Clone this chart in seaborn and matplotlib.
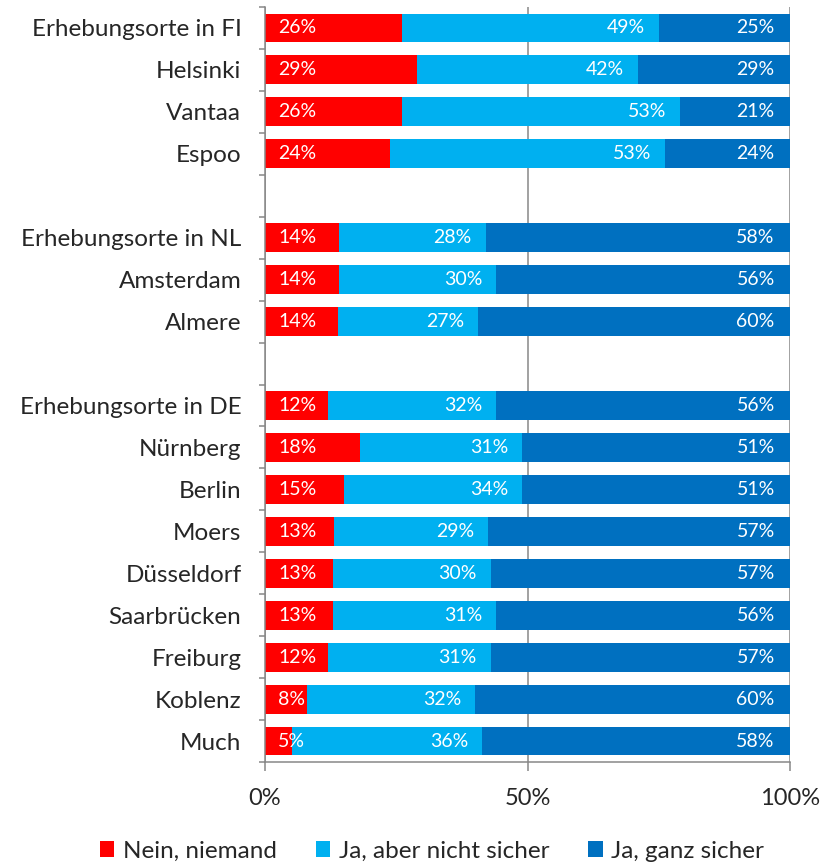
import matplotlib
matplotlib.use("Agg")
import matplotlib.pyplot as plt
import seaborn as sns
import pandas as pd
import numpy as np
from matplotlib.patches import Patch

# Survey locations (blank entries separate the country groups)
places = ["Erhebungsorte in FI", "Helsinki", "Vantaa", "Espoo", " ",
          "Erhebungsorte in NL", "Amsterdam", "Almere", "  ",
          "Erhebungsorte in DE", "Nürnberg", "Berlin", "Moers", "Düsseldorf",
          "Saarbrücken", "Freiburg", "Koblenz", "Much"]
nan = np.nan
nein = [26, 29, 26, 24, nan, 14, 14, 14, nan, 12, 18, 15, 13, 13, 13, 12, 8, 5]
unsicher = [49, 42, 53, 53, nan, 28, 30, 27, nan, 32, 31, 34, 29, 30, 31, 31, 32, 36]
sicher = [25, 29, 21, 24, nan, 58, 56, 60, nan, 56, 51, 51, 57, 57, 56, 57, 60, 58]

series_names = ["Nein, niemand", "Ja, aber nicht sicher", "Ja, ganz sicher"]
colors = ["#FF0000", "#00B0F0", "#0070C0"]
x_ticks = [0, 50, 100]
x_ticklabels = ["0%", "50%", "100%"]

sns.set_style("white")
plt.rcParams["font.family"] = ["Lato", "DejaVu Sans"]

df = pd.DataFrame({"place": places, "nein": nein, "unsicher": unsicher, "sicher": sicher})
total = df[["nein", "unsicher", "sicher"]].sum(axis=1, min_count=1)
# 100% stacked: shares relative to row total, cumulative ends of each segment
df["end_nein"] = df["nein"] / total * 100
df["end_unsicher"] = (df["nein"] + df["unsicher"]) / total * 100
df["end_sicher"] = (df["nein"] + df["unsicher"] + df["sicher"]) / total * 100

fig = plt.figure(figsize=(8.34, 8.65), dpi=100)
ax = fig.add_axes([265 / 834, 1 - 762 / 865, 525 / 834, 755 / 865])

bar_w = 0.69
for col, c in zip(["end_sicher", "end_unsicher", "end_nein"], colors[::-1]):
    sns.barplot(data=df, x=col, y="place", order=places, color=c,
                saturation=1, errorbar=None, width=bar_w, linewidth=0,
                orient="h", ax=ax)

# value labels: first segment at its base, the others at their inner end
lab_kw = dict(color="white", fontsize=14, va="center", textcoords="offset points")
for i, row in df.iterrows():
    if np.isnan(row["nein"]):
        continue
    ax.annotate(f"{int(row['nein'])}%", xy=(0, i), xytext=(9.5, 0), ha="left", **lab_kw)
    ax.annotate(f"{int(row['unsicher'])}%", xy=(row["end_unsicher"], i), xytext=(-10, 0), ha="right", **lab_kw)
    ax.annotate(f"{int(row['sicher'])}%", xy=(row["end_sicher"], i), xytext=(-11, 0), ha="right", **lab_kw)

ax.set_xlim(0, 100)
ax.set_ylim(len(places) - 0.5, -0.5)
ax.set_xlabel("")
ax.set_ylabel("")

grey = "#878787"
ax.set_xticks(x_ticks)
ax.set_xticklabels(x_ticklabels, fontsize=17)
ax.xaxis.grid(True, color=grey, linewidth=1.1)
ax.yaxis.grid(False)
ax.set_axisbelow(True)
ax.tick_params(axis="x", direction="out", length=6.5, width=1.1, color=grey, pad=12, bottom=True)

ax.set_yticks(range(len(places)))
ax.set_yticklabels(places, fontsize=17.5)
ax.set_yticks(np.arange(-0.5, len(places), 1.0), minor=True)
ax.tick_params(axis="y", which="major", length=0, pad=17)
ax.tick_params(axis="y", which="minor", direction="out", length=4, width=1.1, color=grey, left=True)

for side in ["top", "right"]:
    ax.spines[side].set_visible(False)
for side in ["left", "bottom"]:
    ax.spines[side].set_color(grey)
    ax.spines[side].set_linewidth(1.1)

handles = [Patch(facecolor=c, edgecolor="none", label=n) for c, n in zip(colors, series_names)]
fig.legend(handles=handles, loc="center", bbox_to_anchor=(0.518, 0.016), ncol=3,
           frameon=False, fontsize=17.5, handlelength=0.6, handleheight=0.6,
           handletextpad=0.35, columnspacing=1.6)

fig.savefig("out.png", dpi=100)
